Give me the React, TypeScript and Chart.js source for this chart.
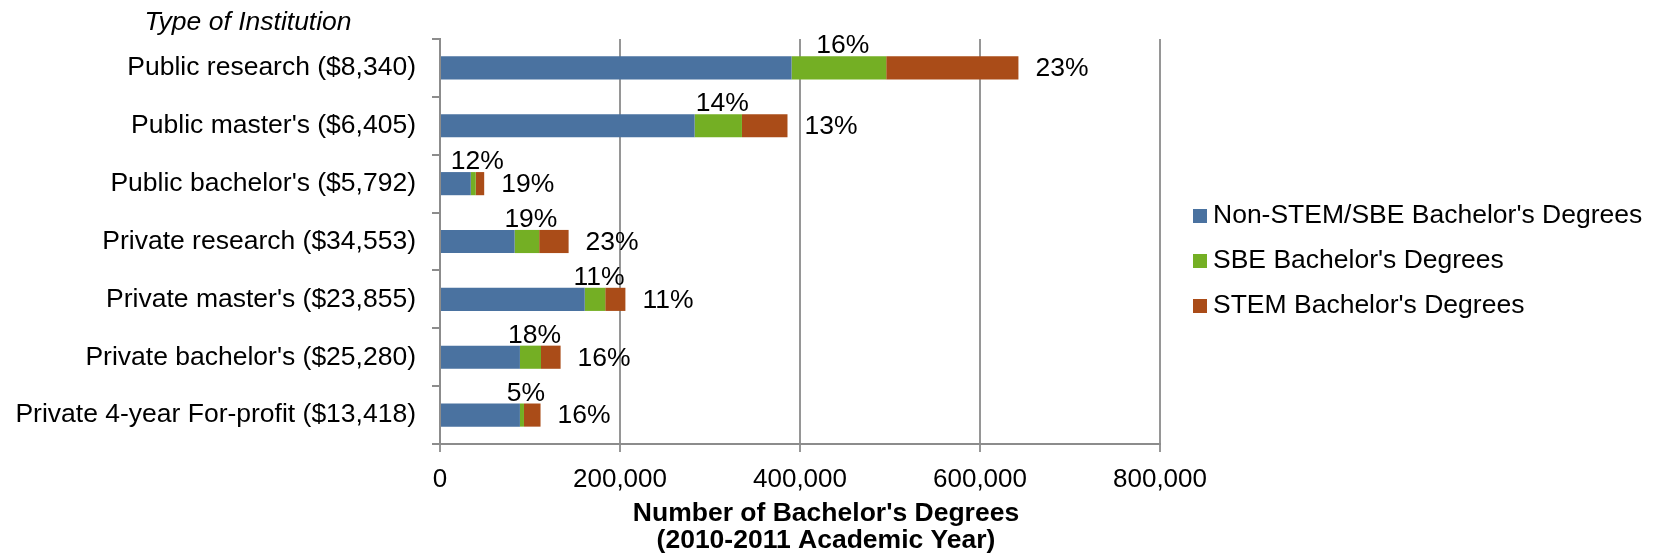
import { useEffect, useRef } from 'react';
import { Chart, registerables } from 'chart.js';

Chart.register(...registerables);

const FONT = '"Liberation Sans", Arial, Helvetica, sans-serif';

const categories = [
  'Public research ($8,340)',
  "Public master's ($6,405)",
  "Public bachelor's ($5,792)",
  'Private research ($34,553)',
  "Private master's ($23,855)",
  "Private bachelor's ($25,280)",
  'Private 4-year For-profit ($13,418)',
];

const seriesNames = [
  "Non-STEM/SBE Bachelor's Degrees",
  "SBE Bachelor's Degrees",
  "STEM Bachelor's Degrees",
];

const seriesColors = ['#4A72A0', '#74AF24', '#AA4C18'];

const nonStemValues = [390600, 282900, 34200, 82900, 160800, 88800, 88800];
const sbeValues = [105200, 52600, 5500, 27300, 22800, 23400, 4500];
const stemValues = [146900, 50600, 9400, 32700, 22400, 21800, 18400];

const sbePercentLabels = ['16%', '14%', '12%', '19%', '11%', '18%', '5%'];
const stemPercentLabels = ['23%', '13%', '19%', '23%', '11%', '16%', '16%'];

const xTickMin = 0;
const xTickMax = 800000;
const xTickStep = 200000;

const yAxisTitle = 'Type of Institution';
const xAxisTitleLines = ["Number of Bachelor's Degrees", '(2010-2011 Academic Year)'];

const percentLabelPlugin = {
  id: 'percentLabels',
  afterDatasetsDraw(chart: any) {
    const ctx = chart.ctx;
    ctx.save();
    ctx.font = `26.5px ${FONT}`;
    ctx.fillStyle = '#000000';
    const sbeMeta = chart.getDatasetMeta(1);
    sbeMeta.data.forEach((bar: any, i: number) => {
      const p = bar.getProps(['x', 'base', 'y', 'height'], true);
      ctx.textAlign = 'center';
      ctx.textBaseline = 'alphabetic';
      ctx.fillText(sbePercentLabels[i], (p.x + p.base) / 2 + 4, p.y - p.height / 2 - 3);
    });
    const stemMeta = chart.getDatasetMeta(2);
    stemMeta.data.forEach((bar: any, i: number) => {
      const p = bar.getProps(['x', 'y'], true);
      ctx.textAlign = 'left';
      ctx.textBaseline = 'middle';
      ctx.fillText(stemPercentLabels[i], p.x + 17, p.y + 1);
    });
    ctx.restore();
  },
};

const decorPlugin = {
  id: 'decor',
  afterDraw(chart: any) {
    const ctx = chart.ctx;
    const area = chart.chartArea;
    ctx.save();
    ctx.fillStyle = '#000000';
    // y-axis title
    ctx.font = `italic 26.5px ${FONT}`;
    ctx.textAlign = 'center';
    ctx.textBaseline = 'alphabetic';
    ctx.fillText(yAxisTitle, 248, area.top - 9);
    // x-axis title
    ctx.font = `bold 26.5px ${FONT}`;
    const cx = (area.left + area.right) / 2 + 26;
    xAxisTitleLines.forEach((line, i) => {
      ctx.fillText(line, cx, area.bottom + 77 + i * 27);
    });
    // legend
    ctx.font = `26.5px ${FONT}`;
    ctx.textAlign = 'left';
    seriesNames.forEach((name, i) => {
      const baseY = 223 + i * 45;
      ctx.fillStyle = seriesColors[i];
      ctx.fillRect(area.right + 33, baseY - 14, 14, 14);
      ctx.fillStyle = '#000000';
      ctx.fillText(name, area.right + 53, baseY);
    });
    ctx.restore();
  },
};

export default function App() {
  const canvasRef = useRef<HTMLCanvasElement | null>(null);

  useEffect(() => {
    document.body.style.margin = '0';
    const canvas = canvasRef.current;
    if (!canvas) return;
    const chart = new Chart(canvas, {
      type: 'bar',
      data: {
        labels: categories,
        datasets: [
          { label: seriesNames[0], data: nonStemValues, backgroundColor: seriesColors[0] },
          { label: seriesNames[1], data: sbeValues, backgroundColor: seriesColors[1] },
          { label: seriesNames[2], data: stemValues, backgroundColor: seriesColors[2] },
        ],
      },
      options: {
        indexAxis: 'y',
        responsive: false,
        animation: false,
        devicePixelRatio: 1,
        layout: { padding: { top: 39, right: 501, left: 0, bottom: 0 } },
        datasets: { bar: { barPercentage: 0.4, categoryPercentage: 1.0 } },
        plugins: {
          legend: { display: false },
          tooltip: { enabled: false },
          title: { display: false },
        },
        scales: {
          x: {
            type: 'linear',
            stacked: true,
            min: xTickMin,
            max: xTickMax,
            ticks: {
              stepSize: xTickStep,
              color: '#000000',
              font: { size: 26, family: FONT },
              padding: 12,
              maxRotation: 0,
              callback: (v: any) => Number(v).toLocaleString('en-US'),
            },
            grid: { color: '#969696', lineWidth: 2, tickLength: 8, drawTicks: true },
            border: { display: true, color: '#8c8c8c', width: 2 },
            afterFit: (scale: any) => {
              scale.height = 113;
            },
          },
          y: {
            type: 'category',
            stacked: true,
            ticks: { color: '#000000', font: { size: 26.5, family: FONT }, padding: 16 },
            grid: { drawOnChartArea: false, drawTicks: true, tickLength: 8, color: '#8c8c8c', lineWidth: 2 },
            border: { display: true, color: '#8c8c8c', width: 2 },
            afterFit: (scale: any) => {
              scale.width = 440;
            },
          },
        },
      },
      plugins: [percentLabelPlugin, decorPlugin],
    });
    return () => chart.destroy();
  }, []);

  return (
    <div style={{ width: 1661, height: 557 }}>
      <canvas ref={canvasRef} width={1661} height={557} style={{ display: 'block' }} />
    </div>
  );
}
